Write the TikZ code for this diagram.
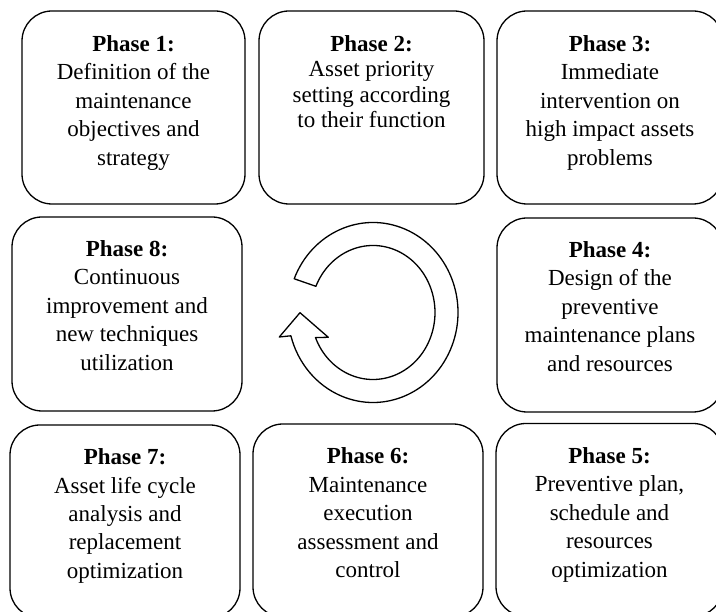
\documentclass[tikz,border=0pt]{standalone}
\usepackage{fontspec}
\setmainfont{Liberation Serif}
\begin{document}
\begin{tikzpicture}[x=1pt,y=1pt,
  phasebox/.style={draw=black, fill=white, line width=1.3pt, rounded corners=30pt,
    inner sep=0pt, minimum height=193pt},
  phasetext/.style={align=center, anchor=north, inner sep=0pt,
    font=\fontsize{23}{28.5}\selectfont},
  cyclearrow/.style={draw=black, fill=white, line width=1.3pt, line join=round}]
\useasboundingbox (0,0) rectangle (716,612);
\clip (0,0) rectangle (716,612);
% boxes
\node[phasebox, minimum width=223pt] (b1) at (133.5,504.5) {};
\node[phasebox, minimum width=225pt] (b2) at (371.5,504.5) {};
\node[phasebox, minimum width=226pt] (b3) at (610,504.5) {};
\node[phasebox, minimum width=230pt, minimum height=194pt] (b8) at (127,298) {};
\node[phasebox, minimum width=226pt, minimum height=194pt] (b4) at (610,297) {};
\node[phasebox, minimum width=230pt] (b7) at (125,90.5) {};
\node[phasebox, minimum width=230pt] (b6) at (368,91.5) {};
\node[phasebox, minimum width=227pt] (b5) at (609.5,92) {};
% texts
\node[phasetext] (t1) at ([yshift=-25pt]b1.north) {\textbf{Phase 1:}\\Definition of the\\maintenance\\objectives and\\strategy};
\node[phasetext, font=\fontsize{23}{25.5}\selectfont] (t2) at ([yshift=-25pt]b2.north) {\textbf{Phase 2:}\\Asset priority\\setting according\\to their function};
\node[phasetext] (t3) at ([yshift=-25pt]b3.north) {\textbf{Phase 3:}\\Immediate\\intervention on\\high impact assets\\problems};
\node[phasetext] (t8) at ([yshift=-24pt]b8.north) {\textbf{Phase 8:}\\Continuous\\improvement and\\new techniques\\utilization};
\node[phasetext] (t4) at ([yshift=-24pt]b4.north) {\textbf{Phase 4:}\\Design of the\\preventive\\maintenance plans\\and resources};
\node[phasetext] (t7) at ([yshift=-24pt]b7.north) {\textbf{Phase 7:}\\Asset life cycle\\analysis and\\replacement\\optimization};
\node[phasetext] (t6) at ([yshift=-24pt]b6.north) {\textbf{Phase 6:}\\Maintenance\\execution\\assessment and\\control};
\node[phasetext] (t5) at ([yshift=-24pt]b5.north) {\textbf{Phase 5:}\\Preventive plan,\\schedule and\\resources\\optimization};
% circular arrow
\coordinate (cc) at (373,299.5);
\draw[cyclearrow] (294.19,333.21)
  arc[start angle=158, end angle=-165, x radius=85pt, y radius=90pt]
  -- (279.3,275) -- (300,299.3) -- (328.3,274.7) -- (315.5,274.4)
  arc[start angle=-158, end angle=157, x radius=62pt, y radius=67pt]
  -- cycle;
\end{tikzpicture}
\end{document}
